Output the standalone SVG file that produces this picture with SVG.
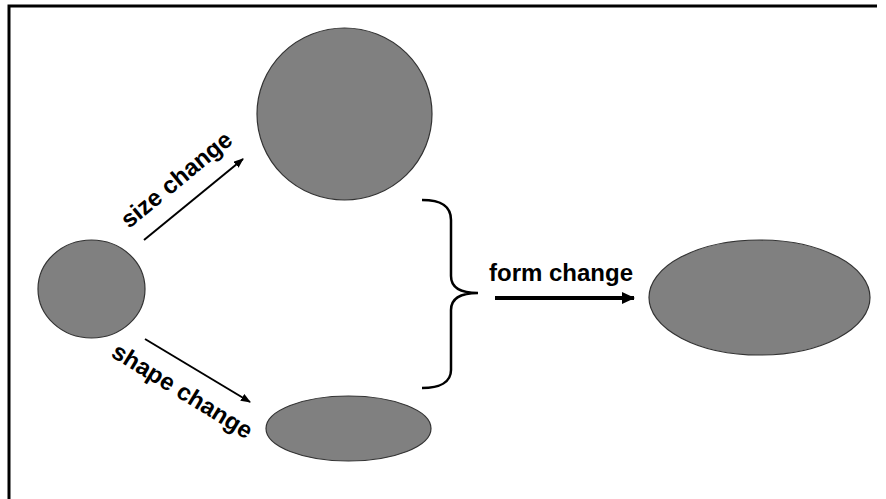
<svg xmlns="http://www.w3.org/2000/svg" width="886" height="499" viewBox="0 0 886 499">
  <style>
    .blob { fill: #808080; stroke: #333333; stroke-width: 1.2; }
    .label { font-family: "Liberation Sans", Arial, sans-serif; font-weight: bold; font-size: 24px; fill: #000000; }
    .thin { stroke: #000000; stroke-width: 2; fill: none; }
    .brace { stroke: #000000; stroke-width: 2.5; fill: none; }
    .thick { stroke: #000000; stroke-width: 4; fill: none; }
  </style>
  <defs>
    <marker id="headSmall" markerUnits="userSpaceOnUse" markerWidth="12" markerHeight="10" refX="9" refY="4" orient="auto">
      <path d="M0,0 L10,4 L0,8 z" fill="#000000"/>
    </marker>
    <marker id="headLarge" markerUnits="userSpaceOnUse" markerWidth="16" markerHeight="14" refX="12" refY="6" orient="auto">
      <path d="M0,0 L13,6 L0,12 z" fill="#000000"/>
    </marker>
  </defs>

  <rect width="886" height="499" fill="#ffffff"/>
  <!-- frame: top and left edges -->
  <path d="M9,499 V6 H877" fill="none" stroke="#000000" stroke-width="3"/>

  <g id="start">
    <ellipse class="blob" cx="91.5" cy="289" rx="53.5" ry="49"/>
  </g>
  <g id="bigger">
    <ellipse class="blob" cx="344.5" cy="114" rx="87.5" ry="86"/>
  </g>
  <g id="flatter">
    <ellipse class="blob" cx="348.5" cy="428.5" rx="82.5" ry="32.5"/>
  </g>
  <g id="result">
    <ellipse class="blob" cx="759.5" cy="297.5" rx="110.5" ry="57.5"/>
  </g>

  <g id="connectors">
    <line class="thin" x1="144" y1="240" x2="243" y2="159" marker-end="url(#headSmall)"/>
    <line class="thin" x1="145" y1="339" x2="250" y2="402" marker-end="url(#headSmall)"/>
    <path class="brace" d="M422,200 C440,200 451,205 451,220 V276 C451,288 462,293 478,293 C462,293 451,298 451,310 V370 C451,382 440,388 422,388"/>
    <line class="thick" x1="495" y1="298" x2="634" y2="298" marker-end="url(#headLarge)"/>
  </g>

  <g id="labels">
    <text class="label" x="129" y="229" transform="rotate(-39.5 129 229)">size change</text>
    <text class="label" x="110" y="356" transform="rotate(31.5 110 356)">shape change</text>
    <text class="label" x="489" y="281">form change</text>
  </g>
</svg>
